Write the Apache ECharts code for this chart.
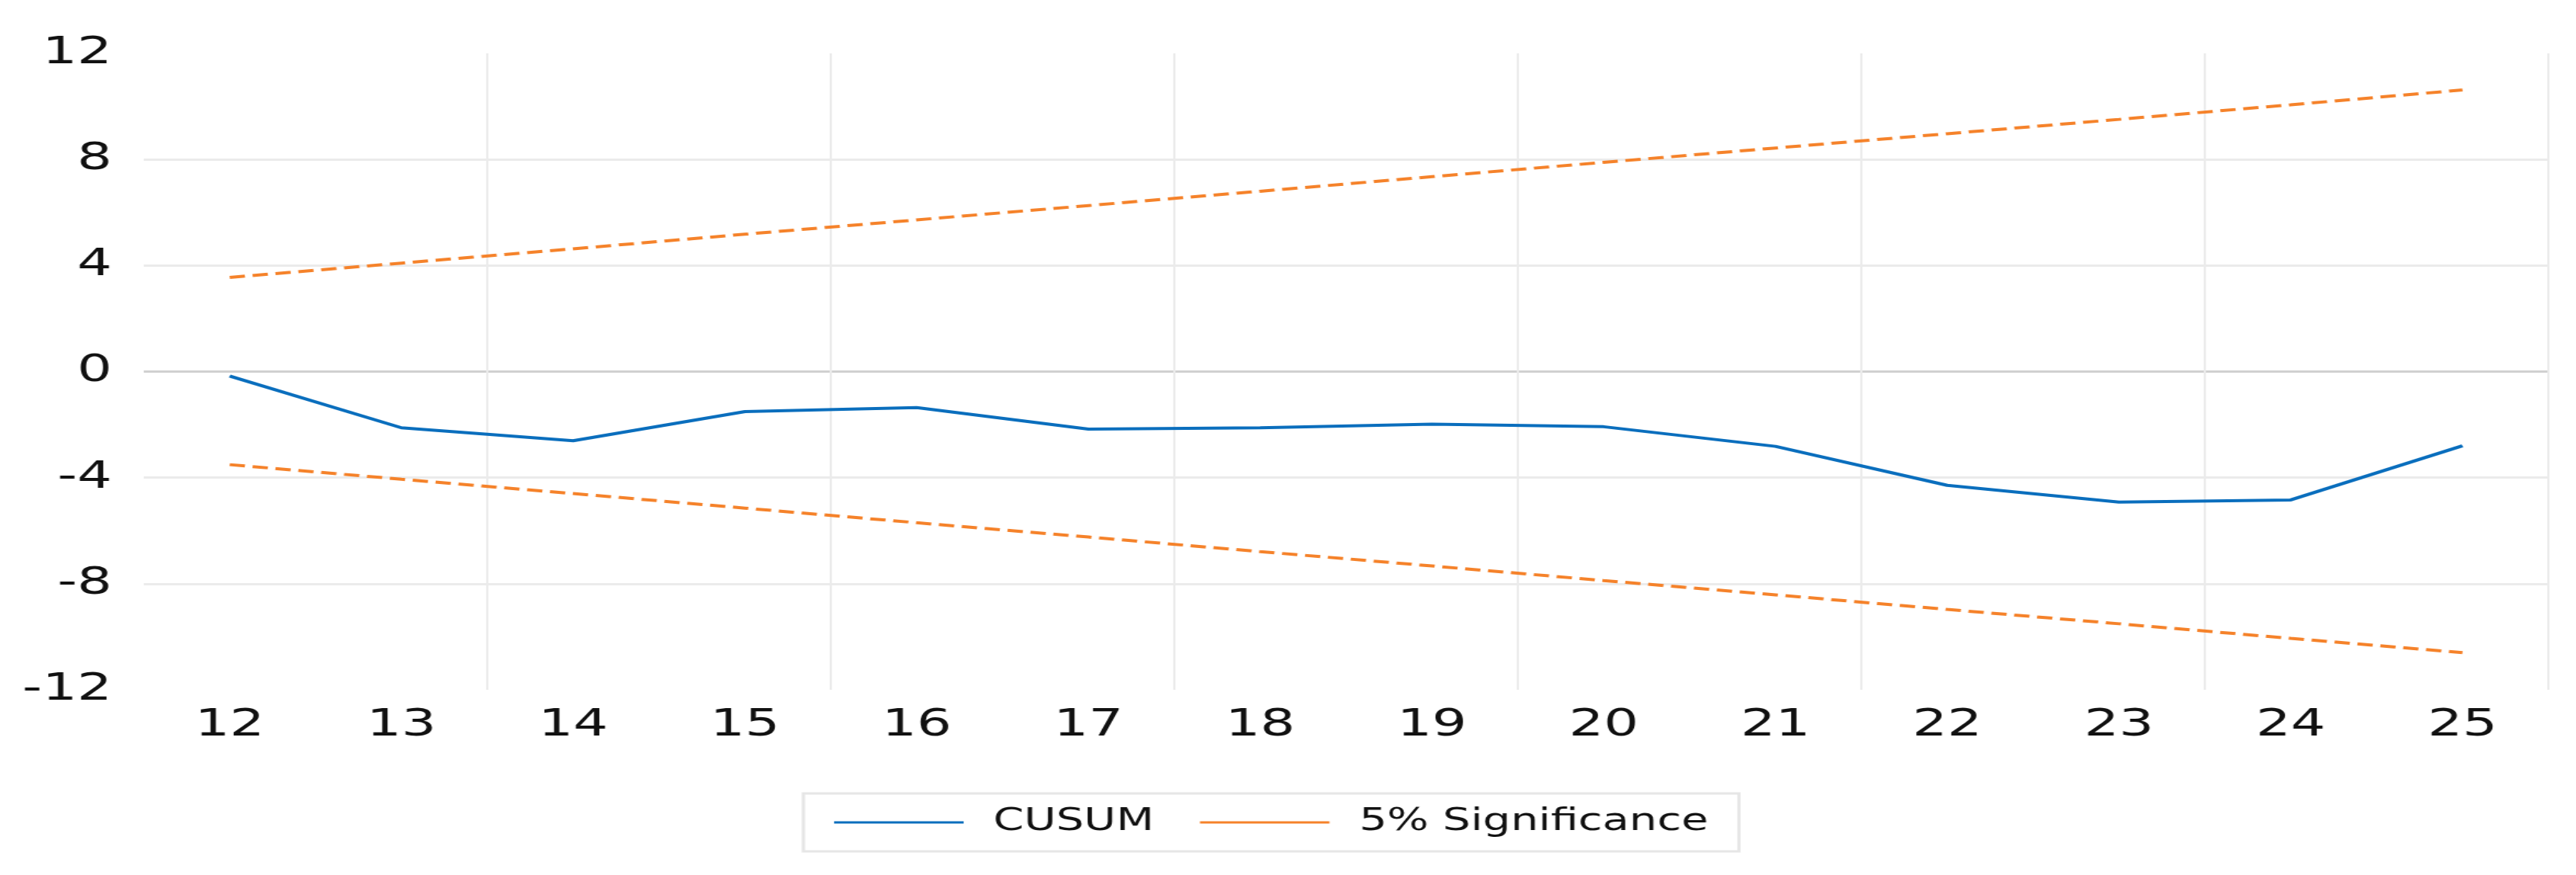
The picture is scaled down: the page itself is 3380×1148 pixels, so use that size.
<!DOCTYPE html>
<html><head><meta charset="utf-8">
<script src="https://cdn.jsdelivr.net/npm/echarts@6/dist/echarts.min.js"></script>
<style>html,body{margin:0;padding:0;background:#fff;overflow:hidden}#c{width:2347px;height:1148px;transform:scaleX(1.44);transform-origin:0 0}</style>
</head><body><div id="c"></div>
<script>
const categories = ['12','13','14','15','16','17','18','19','20','21','22','23','24','25'];
const cusum = [-0.17,-2.12,-2.61,-1.51,-1.36,-2.17,-2.12,-1.98,-2.08,-2.82,-4.29,-4.92,-4.84,-2.80];
const upper = [3.55,4.09,4.63,5.18,5.72,6.26,6.80,7.35,7.89,8.43,8.97,9.51,10.06,10.62];
const lower = [-3.51,-4.06,-4.60,-5.15,-5.70,-6.24,-6.79,-7.33,-7.88,-8.42,-8.97,-9.51,-10.06,-10.60];
const yTicks = [-12,-8,-4,0,4,8,12];
const font = 'DejaVu Sans';
const chart = echarts.init(document.getElementById('c'));
chart.setOption({
  animation:false,
  grid:{left:131,right:25,top:70,bottom:243},
  legend:{left:732,top:1041,padding:[18,28,18,28],itemGap:42,itemWidth:118,itemHeight:3,
    borderColor:'#e6e6e6',borderWidth:3,
    textStyle:{fontFamily:font,fontSize:40,color:'#111',padding:[0,0,0,22]},
    data:[{name:'CUSUM',icon:'rect'},{name:'5% Significance',icon:'rect'}]},
  xAxis:{type:'category',data:categories,boundaryGap:true,
    axisLine:{show:false},axisTick:{show:false},
    axisLabel:{fontFamily:font,fontSize:50,color:'#111',margin:22},
    splitLine:{show:true,interval:(i)=>i>0&&i%2===0,lineStyle:{color:'#ebebeb',width:2}}},
  yAxis:{type:'value',min:yTicks[0],max:yTicks[yTicks.length-1],interval:4,
    axisLine:{show:false},axisTick:{show:false},
    axisLabel:{fontFamily:font,fontSize:50,color:'#111',margin:29},
    splitLine:{lineStyle:{color:['transparent','#ebebeb','#ebebeb','#d0d0d0','#ebebeb','#ebebeb','transparent'],width:3}}},
  series:[
    {name:'CUSUM',type:'line',data:cusum,symbol:'none',color:'#0A6EBD',lineStyle:{width:4,color:'#0A6EBD'}},
    {name:'5% Significance',type:'line',data:upper,symbol:'none',color:'#F5822A',lineStyle:{width:4,type:[14,7],color:'#F5822A'}},
    {name:'5% Significance',type:'line',data:lower,symbol:'none',color:'#F5822A',lineStyle:{width:4,type:[14,7],color:'#F5822A'}}
  ]
});
</script></body></html>
